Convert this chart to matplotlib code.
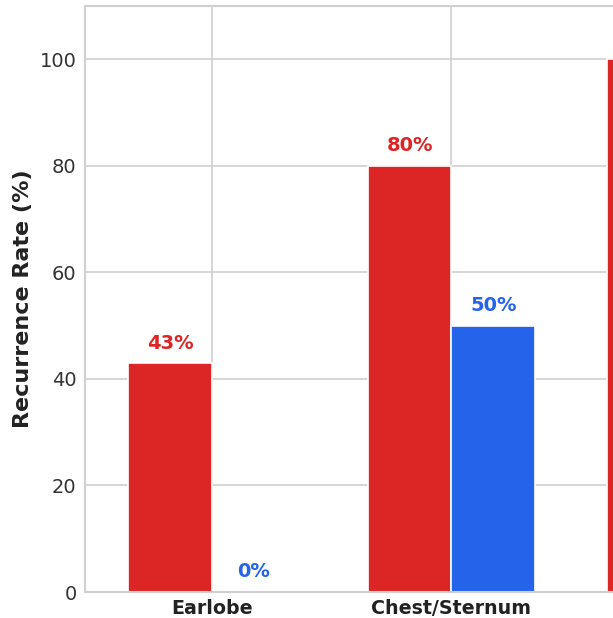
import matplotlib
matplotlib.use("Agg")
import matplotlib.pyplot as plt
import numpy as np

categories = ["Earlobe", "Chest/Sternum", "Shoulder"]
series_a = [42.9, 80.0, 100.0]   # red series
series_b = [0.0, 50.0, 0.0]      # blue series (third not visible)
yticks = [0, 20, 40, 60, 80, 100]
n_visible = 2  # categories whose labels fall inside the visible crop

RED = "#dc2626"
BLUE = "#2563eb"
GRID = "#d0d0d0"

fig = plt.figure(figsize=(6.13, 6.18), dpi=100)
W, H = 613, 618
px_per_cat = 239.5
x_left = -0.53
x_right = 3.0
ax_left = 85 / W
ax_bottom = (H - 592) / H
ax_height = (592 - 6) / H
ax_width = (x_right - x_left) * px_per_cat / W
ax = fig.add_axes([ax_left, ax_bottom, ax_width, ax_height])

x = np.arange(len(categories))
w = 0.35
ax.bar(x - w / 2, series_a, w, color=RED, edgecolor="white", linewidth=1.2, zorder=2)
ax.bar(x + w / 2, series_b, w, color=BLUE, edgecolor="white", linewidth=1.2, zorder=2)

for xi, v in zip((x - w / 2)[:n_visible], series_a[:n_visible]):
    ax.text(xi, v + 2.0, f"{v:.0f}%", ha="center", va="bottom", color=RED,
            fontsize=14, fontweight="bold", zorder=4)
for xi, v in zip((x + w / 2)[:n_visible], series_b[:n_visible]):
    ax.text(xi, v + 2.0, f"{v:.0f}%", ha="center", va="bottom", color=BLUE,
            fontsize=14, fontweight="bold", zorder=4)

ax.set_xlim(x_left, x_right)
ax.set_ylim(0, 110)
ax.set_yticks(yticks)
ax.set_xticks(x)
ax.set_xticklabels(categories[:n_visible] + [""] * (len(categories) - n_visible),
                   fontsize=13.7, fontweight="bold", color="#222222")
ax.tick_params(axis="y", labelsize=14, colors="#333333", length=0, pad=6)
ax.tick_params(axis="x", length=0, pad=5)
ax.set_ylabel("Recurrence Rate (%)", fontsize=16, fontweight="bold", color="#222222", labelpad=5)

ax.grid(True, color=GRID, linewidth=1.2, zorder=0)
ax.set_axisbelow(True)
for s in ax.spines.values():
    s.set_color(GRID)
    s.set_linewidth(1.5)
    s.set_zorder(2.5)

fig.savefig("out.png", dpi=100)
